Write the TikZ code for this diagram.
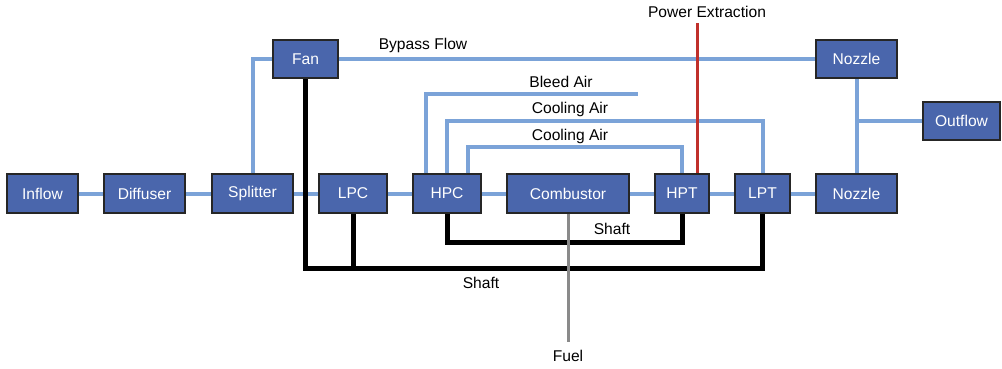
\documentclass[tikz,border=0pt]{standalone}
\usepackage{fontspec}
\setmainfont{Liberation Sans}
\definecolor{boxfill}{HTML}{4A66AC}
\definecolor{flowblue}{HTML}{7BA3D8}
\definecolor{powred}{HTML}{C0302B}
\definecolor{fuelgray}{HTML}{8A8A8A}
\begin{document}
\begin{tikzpicture}[x=1pt,y=-1pt,
  blk/.style={draw=black!85,line width=1.6pt,fill=boxfill,text=white,inner sep=0pt,
    minimum height=38.5pt,font=\fontsize{15.6}{18}\selectfont},
  flow/.style={draw=flowblue,line width=4pt},
  shaftline/.style={draw=black,line width=5pt},
  fuelline/.style={draw=fuelgray,line width=3pt},
  powerline/.style={draw=powred,line width=3pt},
  lbl/.style={inner sep=0pt,font=\fontsize{15.6}{18}\selectfont}]
\useasboundingbox (0,0) rectangle (1002,368);
% boxes
\node[blk,minimum width=71pt] (inflow) at (42.5,193.5) {Inflow};
\node[blk,minimum width=81pt] (diffuser) at (144.5,193.5) {Diffuser};
\node[blk,minimum width=81pt] (splitter) at (252.5,193.5) {Splitter};
\node[blk,minimum width=68pt] (lpc) at (353,193.5) {LPC};
\node[blk,minimum width=68pt] (hpc) at (447,193.5) {HPC};
\node[blk,minimum width=122pt] (comb) at (568,193.5) {Combustor};
\node[blk,minimum width=54pt] (hpt) at (682,193.5) {HPT};
\node[blk,minimum width=55pt] (lpt) at (762.5,193.5) {LPT};
\node[blk,minimum width=81pt] (noz2) at (856.5,193.5) {Nozzle};
\node[blk,minimum width=65pt] (fan) at (305.5,59) {Fan};
\node[blk,minimum width=81pt] (noz1) at (856.5,59) {Nozzle};
\node[blk,minimum width=77pt] (outflow) at (961.5,121) {Outflow};
% coordinates
\coordinate (bleedend) at (638,93.5);
\coordinate (c1) at (762.5,121);
\coordinate (c2) at (682,147);
\coordinate (nozj) at (856.5,121);
\coordinate (pe) at (697,23);
\coordinate (s1) at (682,242);
\coordinate (s2) at (762.5,268);
\coordinate (fuelend) at (568,342);
% labels
\node[lbl] (lbypass) at (423,45) {Bypass Flow};
\node[lbl] (lbleed) at (561,82) {Bleed Air};
\node[lbl] (lcool1) at (570,109) {Cooling Air};
\node[lbl] (lcool2) at (570,136) {Cooling Air};
\node[lbl] (lshaft1) at (612,229) {Shaft};
\node[lbl] (lshaft2) at (481,283) {Shaft};
\node[lbl] (lpower) at (707,12) {Power Extraction};
\node[lbl] (lfuel) at (568,356) {Fuel};
% flow connectors
\draw[flow] (inflow) -- (diffuser);
\draw[flow] (diffuser) -- (splitter);
\draw[flow] (splitter) -- (lpc);
\draw[flow] (lpc) -- (hpc);
\draw[flow] (hpc) -- (comb);
\draw[flow] (comb) -- (hpt);
\draw[flow] (hpt) -- (lpt);
\draw[flow] (lpt) -- (noz2);
\draw[flow] (splitter.north) |- (fan.west);
\draw[flow] (fan.east) -- (noz1.west);
\draw[flow] (noz1.south) -- (noz2.north);
\draw[flow] (nozj) -- (outflow.west);
\draw[flow] ([xshift=-21pt]hpc.north) |- (bleedend);
\draw[flow] (hpc.north) |- (c1) -- (lpt.north);
\draw[flow] ([xshift=21pt]hpc.north) |- (c2) -- (hpt.north);
% shafts
\draw[shaftline] (hpc.south) |- (s1) -- (hpt.south);
\draw[shaftline] (fan.south) |- (s2) -- (lpt.south);
\draw[shaftline] (lpc.south) -- (lpc.south |- s2);
% fuel and power
\draw[fuelline] (comb.south) -- (fuelend);
\draw[powerline] (pe) -- (pe |- hpt.north);
\end{tikzpicture}
\end{document}
